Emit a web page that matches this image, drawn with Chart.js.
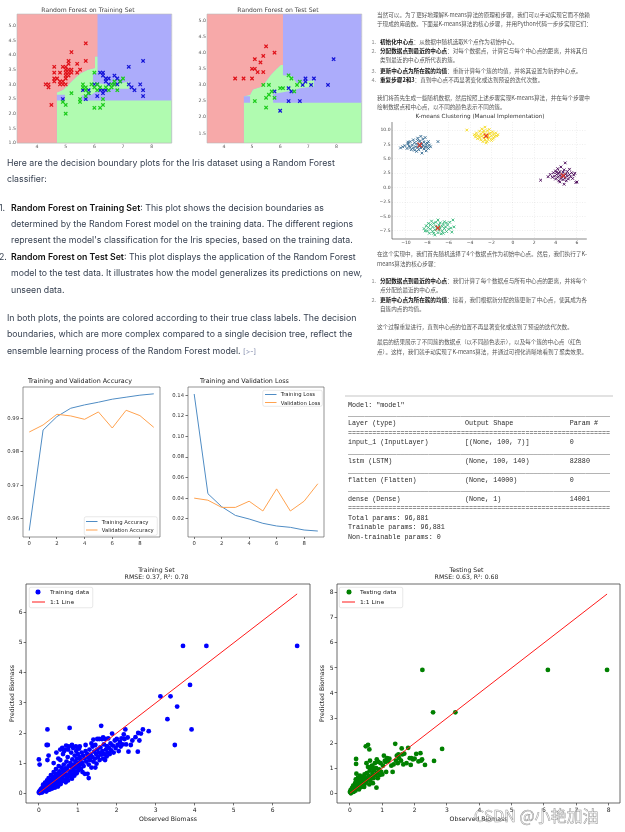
<!DOCTYPE html>
<html><head><meta charset="utf-8">
<script src="https://cdn.jsdelivr.net/npm/chart.js"></script>
<style>
html,body{margin:0;padding:0;background:#fff;width:625px;height:832px;overflow:hidden;}
#stage{position:relative;width:625px;height:832px;overflow:hidden;background:#fff;}
#stage canvas{position:absolute;}
#ov{position:absolute;left:0;top:0;width:1250px;height:1664px;transform:scale(0.5);transform-origin:0 0;pointer-events:none;z-index:10;}
#ov div{position:absolute;white-space:nowrap;}
#ov b{font-weight:600;color:#111;}
</style></head>
<body><div id="stage"><div id="ov"></div></div>
<script>
// ================= DATA =================
// --- Random Forest decision boundary plots (Iris: sepal length vs sepal width)
const decisionXTickLabels = ['4','5','6','7','8'];
const trainYTickLabels = ['1.0','1.5','2.0','2.5','3.0','3.5','4.0','4.5','5.0'];
const testYTickLabels = ['1.5','2.0','2.5','3.0','3.5','4.0','4.5','5.0'];
const trainSetosa = [[4.3,3.0],[4.4,2.9],[4.4,3.0],[4.5,2.3],[4.6,3.1],[4.6,3.2],[4.6,3.4],[4.6,3.6],[4.7,3.2],[4.8,3.0],[4.8,3.1],[4.8,3.4],[4.9,3.0],[4.9,3.1],[4.9,3.6],[5.0,3.0],[5.0,3.2],[5.0,3.3],[5.0,3.4],[5.0,3.5],[5.0,3.6],[5.1,3.3],[5.1,3.4],[5.1,3.5],[5.1,3.7],[5.1,3.8],[5.2,3.4],[5.2,3.5],[5.2,4.1],[5.4,3.4],[5.4,3.7],[5.5,3.5],[5.7,3.8],[5.7,4.4]];
const trainVersicolor = [[4.9,2.4],[5.0,2.0],[5.0,2.3],[5.2,2.7],[5.5,2.4],[5.5,2.5],[5.6,2.9],[5.6,3.0],[5.7,2.6],[5.7,2.8],[5.7,2.9],[5.8,2.7],[6.0,2.2],[6.0,2.9],[6.0,3.4],[6.1,2.8],[6.1,3.0],[6.2,2.2],[6.2,2.9],[6.3,2.3],[6.3,2.5],[6.4,2.9],[6.5,2.8],[6.6,2.9],[6.6,3.0],[6.7,3.1],[6.8,2.8],[6.9,3.1],[7.0,3.2],[5.9,3.0],[6.7,3.0]];
const trainVirginica = [[4.9,2.5],[5.6,2.8],[5.7,2.5],[5.8,2.7],[5.8,2.8],[6.0,3.0],[6.1,2.6],[6.1,3.0],[6.2,2.8],[6.2,3.4],[6.3,2.7],[6.3,2.8],[6.3,3.3],[6.3,3.4],[6.4,2.8],[6.4,3.1],[6.4,3.2],[6.5,3.0],[6.5,3.2],[6.7,3.0],[6.7,3.3],[6.8,3.0],[6.8,3.2],[6.9,3.1],[7.2,3.0],[7.2,3.6],[7.3,2.9],[7.4,2.8],[7.6,3.0],[7.7,2.6],[7.7,2.8],[7.7,3.8]];
const testSetosa = [[4.4,3.2],[4.7,3.2],[5.0,3.2],[5.0,3.5],[5.1,3.5],[5.1,3.8],[5.2,3.4],[5.3,3.7],[5.4,3.9],[5.4,3.4],[5.5,4.2],[5.8,4.0]];
const testVersicolor = [[5.1,2.5],[5.4,3.0],[5.5,2.3],[5.5,2.6],[5.6,2.7],[5.7,2.8],[5.8,2.6],[6.0,2.9],[6.1,2.9],[6.3,3.3],[6.4,3.2],[6.5,2.8],[6.6,3.0],[6.7,3.1],[5.6,3.0]];
const testVirginica = [[5.8,2.8],[6.0,2.2],[6.3,2.5],[6.3,2.9],[6.4,2.8],[6.7,2.5],[6.8,3.0],[6.9,3.1],[6.9,3.2],[7.1,3.0],[7.2,3.2],[7.7,3.0],[7.9,3.8]];
// predicted class regions (polygons in data space)
const trainBlueRegion = [[3.3,1.0],[8.7,1.0],[8.7,5.4],[3.3,5.4]];
const trainRedRegion = [[3.3,5.4],[6.11,5.4],[6.11,3.95],[6.02,3.95],[6.02,3.56],[5.77,3.5],[5.49,3.36],[5.26,3.16],[5.09,2.99],[4.91,2.82],[4.69,2.72],[4.69,1.0],[3.3,1.0]];
const trainGreenRegion = [[4.69,2.72],[4.91,2.82],[5.09,2.99],[5.26,3.16],[5.49,3.36],[5.77,3.5],[6.02,3.56],[6.02,3.95],[6.11,3.95],[6.11,3.4],[5.95,3.4],[5.95,3.1],[6.25,3.02],[6.6,2.97],[7.2,3.1],[7.2,2.85],[6.6,2.85],[6.05,2.75],[5.9,2.65],[5.55,2.62],[5.55,2.45],[8.7,2.45],[8.7,1.0],[4.69,1.0],[4.69,2.45],[4.97,2.45],[4.97,2.65],[4.69,2.65]];
const testBlueRegion = [[3.4,1.2],[8.9,1.2],[8.9,5.2],[3.4,5.2]];
const testRedRegion = [[3.4,5.2],[6.1,5.2],[6.1,3.62],[6.02,3.62],[5.84,3.47],[5.67,3.32],[5.49,3.11],[5.38,2.96],[5.03,2.86],[4.93,2.7],[4.71,2.65],[4.71,1.2],[3.4,1.2]];
const testGreenRegion = [[4.71,2.65],[4.93,2.7],[5.03,2.86],[5.38,2.96],[5.49,3.11],[5.67,3.32],[5.84,3.47],[6.02,3.62],[6.1,3.62],[6.1,3.3],[6.4,3.28],[6.6,3.05],[7.2,3.15],[7.2,2.95],[6.7,2.9],[6.4,2.82],[6.0,2.76],[5.75,2.72],[5.75,2.45],[8.9,2.45],[8.9,1.2],[4.71,1.2],[4.71,2.45],[4.93,2.45],[4.93,2.65],[4.71,2.65]];

// --- K-means clustering
const kmeansXTickLabels = ['\u221210','\u22128','\u22126','\u22124','\u22122','0','2','4','6'];
const kmeansYTickLabels = ['\u22127.5','\u22125.0','\u22122.5','0.0','2.5','5.0','7.5','10.0'];
const clusterPurple = [[2.6,1.3],[3.5,2.3],[3.7,1.8],[3.8,2.6],[3.9,2.0],[4.0,1.5],[4.0,2.9],[4.1,2.3],[4.2,1.8],[4.2,3.3],[4.3,2.5],[4.3,1.2],[4.4,2.1],[4.4,2.8],[4.5,1.6],[4.5,3.6],[4.6,2.3],[4.6,1.9],[4.7,2.7],[4.7,1.4],[4.8,2.1],[4.8,3.1],[4.9,4.3],[4.9,1.7],[5.0,2.4],[5.0,1.2],[5.1,2.0],[5.1,2.8],[5.2,1.5],[5.3,2.3],[5.4,1.9],[5.5,2.6],[5.6,1.6],[5.7,2.2],[5.8,2.5],[5.9,0.9],[6.0,1.0],[4.4,1.0],[4.8,0.6],[5.3,3.2],[4.1,2.7],[3.3,1.9]];
const clusterBlue = [[-10.5,6.9],[-10.3,7.1],[-10.1,7.3],[-9.9,6.8],[-9.8,7.6],[-9.7,7.2],[-9.6,8.0],[-9.5,6.6],[-9.4,7.4],[-9.3,8.3],[-9.3,6.9],[-9.2,7.8],[-9.1,7.1],[-9.0,6.3],[-9.0,7.6],[-8.9,8.6],[-8.9,7.0],[-8.8,7.4],[-8.8,6.6],[-8.7,8.1],[-8.7,7.2],[-8.6,8.9],[-8.6,6.9],[-8.5,7.6],[-8.5,6.0],[-8.4,7.3],[-8.4,8.4],[-8.3,6.7],[-8.3,7.9],[-8.2,7.1],[-8.2,8.7],[-8.1,6.4],[-8.1,7.5],[-8.0,7.0],[-7.9,8.0],[-7.9,6.8],[-7.8,7.4],[-7.7,7.1],[-9.6,7.0],[-9.2,6.5],[-8.6,7.7],[-8.9,8.2],[-8.0,7.7],[-7.0,8.0],[-9.8,7.9],[-8.5,7.1]];
const clusterGreen = [[-8.3,-7.1],[-8.1,-6.6],[-8.0,-7.5],[-7.9,-6.9],[-7.8,-7.9],[-7.7,-6.4],[-7.7,-7.2],[-7.6,-5.8],[-7.5,-6.8],[-7.5,-7.6],[-7.4,-6.2],[-7.3,-7.3],[-7.3,-8.2],[-7.2,-6.7],[-7.1,-7.0],[-7.0,-5.6],[-7.0,-7.8],[-6.9,-6.5],[-6.9,-7.3],[-6.8,-6.1],[-6.8,-7.0],[-6.7,-8.0],[-6.6,-6.7],[-6.6,-7.5],[-6.5,-6.3],[-6.4,-7.1],[-6.4,-5.9],[-6.3,-6.8],[-6.2,-7.6],[-6.1,-6.5],[-6.0,-7.2],[-5.9,-6.0],[-5.8,-7.0],[-5.7,-7.7],[-5.6,-5.6],[-5.5,-6.8],[-7.9,-6.2],[-7.4,-7.9],[-6.2,-6.1],[-7.2,-6.0],[-6.5,-7.9],[-8.2,-7.5]];
const clusterYellow = [[-4.3,10.0],[-3.6,9.2],[-3.5,8.8],[-3.4,9.5],[-3.3,8.5],[-3.2,9.0],[-3.1,9.8],[-3.0,8.3],[-3.0,9.3],[-2.9,8.9],[-2.9,10.2],[-2.8,8.0],[-2.8,9.6],[-2.7,9.1],[-2.7,8.6],[-2.6,10.5],[-2.6,9.4],[-2.5,8.8],[-2.5,7.8],[-2.4,9.2],[-2.4,9.9],[-2.3,8.4],[-2.3,9.0],[-2.2,10.1],[-2.2,8.7],[-2.1,9.5],[-2.0,8.2],[-2.0,9.0],[-1.9,9.7],[-1.8,8.6],[-1.8,9.3],[-1.7,8.9],[-1.6,9.5],[-1.5,9.0],[-1.4,9.2],[-3.1,8.7],[-2.6,8.3],[-2.2,9.4],[-3.4,9.1],[-1.9,8.4],[-2.7,9.9],[-2.4,8.0]];
const kmeansCenters = [[4.7,2.1],[-8.7,7.4],[-7.0,-7.0],[-2.5,9.0]];

// --- Training history
const epochs = [0,1,2,3,4,5,6,7,8,9];
const epochTickLabels = ['0','2','4','6','8'];
const trainAccuracy = [0.9565,0.9865,0.9905,0.9930,0.9940,0.9948,0.9957,0.9963,0.9969,0.9973];
const valAccuracy = [0.9859,0.9880,0.9912,0.9907,0.9897,0.9919,0.9871,0.9924,0.9908,0.9873];
const accTickLabels = ['0.96','0.97','0.98','0.99'];
const trainLoss = [0.1413,0.0443,0.0317,0.0232,0.0197,0.0155,0.0129,0.0116,0.0090,0.0080];
const valLoss = [0.0400,0.0380,0.0310,0.0310,0.0370,0.0275,0.0490,0.0275,0.0370,0.0540];
const lossTickLabels = ['0.02','0.04','0.06','0.08','0.10','0.12','0.14'];

// --- Biomass predictions [observed, predicted]
const trainTickLabels = ['0','1','2','3','4','5','6'];
const testTickLabels = ['0','1','2','3','4','5','6','7','8'];
const trainingBiomass = [[0.0,0.02],[0.01,0.05],[0.02,0.0],[0.03,0.08],[0.04,0.03],[0.05,0.12],[0.06,0.06],[0.07,0.15],[0.08,0.02],[0.09,0.1],[0.1,0.2],[0.1,0.05],[0.11,0.28],[0.12,0.12],[0.13,0.18],[0.14,0.08],[0.15,0.25],[0.16,0.35],[0.17,0.14],[0.18,0.22],[0.19,0.05],[0.2,0.3],[0.21,0.42],[0.22,0.18],[0.23,0.1],[0.24,0.26],[0.25,0.5],[0.26,0.34],[0.27,0.2],[0.28,0.12],[0.29,0.4],[0.3,0.28],[0.31,0.6],[0.32,0.22],[0.33,0.45],[0.34,0.15],[0.35,0.35],[0.36,0.52],[0.37,0.3],[0.38,0.7],[0.39,0.25],[0.4,0.42],[0.41,0.18],[0.42,0.58],[0.43,0.36],[0.44,0.8],[0.45,0.28],[0.46,0.48],[0.47,0.65],[0.48,0.4],[0.49,0.22],[0.5,0.55],[0.51,0.9],[0.52,0.35],[0.53,0.72],[0.54,0.46],[0.55,1.1],[0.56,0.3],[0.57,0.62],[0.58,0.85],[0.59,0.5],[0.6,0.4],[0.61,0.75],[0.62,1.3],[0.63,0.58],[0.64,0.95],[0.65,0.45],[0.66,0.68],[0.67,1.45],[0.68,0.82],[0.69,0.36],[0.7,0.6],[0.71,1.05],[0.72,0.5],[0.73,0.78],[0.74,1.2],[0.75,0.42],[0.76,0.9],[0.77,1.55],[0.78,0.65],[0.79,2.17],[0.8,0.55],[0.81,1.0],[0.82,0.72],[0.83,1.35],[0.84,0.88],[0.85,0.48],[0.86,1.12],[0.87,0.62],[0.88,1.5],[0.89,0.8],[0.9,0.95],[0.91,0.58],[0.92,1.25],[0.93,0.7],[0.94,1.05],[0.95,0.85],[0.96,1.4],[0.97,0.66],[0.98,1.15],[0.99,0.9],[1.0,1.3],[1.01,0.75],[1.02,1.0],[1.03,1.48],[1.04,0.85],[1.05,1.2],[1.06,0.95],[1.07,1.1],[1.08,0.8],[1.1,1.35],[1.12,1.0],[1.14,1.25],[1.15,0.9],[1.17,1.15],[1.18,0.64],[1.2,1.4],[1.22,1.05],[1.24,1.3],[1.28,0.5],[1.27,1.18],[1.28,0.95],[1.3,1.45],[1.31,1.1],[1.33,1.28],[1.35,0.85],[1.37,1.2],[1.38,1.55],[1.4,1.05],[1.42,1.38],[1.44,1.15],[1.45,1.6],[1.47,1.3],[1.48,0.98],[1.5,1.45],[1.52,1.2],[1.54,1.35],[1.56,1.1],[1.58,1.52],[1.6,2.24],[1.6,1.28],[1.62,1.8],[1.63,1.4],[1.65,1.15],[1.67,1.62],[1.68,1.3],[1.7,1.8],[1.72,1.45],[1.74,1.22],[1.75,1.56],[1.77,1.35],[1.78,1.82],[1.8,1.5],[1.82,1.3],[1.84,1.65],[1.86,1.42],[1.88,1.98],[1.9,1.58],[1.92,1.35],[1.95,1.75],[1.97,1.5],[2.0,1.8],[2.02,1.6],[2.05,1.4],[2.08,1.7],[2.1,1.55],[2.12,1.82],[2.15,1.62],[2.18,1.95],[2.2,1.8],[2.22,2.12],[2.24,1.62],[2.28,1.85],[2.3,1.38],[2.36,1.6],[2.4,1.75],[2.48,1.86],[2.54,1.38],[2.58,1.75],[2.62,1.98],[2.67,2.12],[2.82,2.06],[2.55,2.0],[0.0,1.12],[0.02,0.95],[0.2,1.6],[0.23,1.6],[0.22,2.12],[0.25,1.25],[0.22,1.1],[0.38,1.0],[0.5,1.15],[0.45,1.35],[0.55,1.45],[0.6,1.5],[0.65,1.4],[0.7,1.58],[0.75,1.45],[0.85,1.6],[0.95,1.55],[1.0,1.5],[1.05,1.55],[1.2,1.6],[1.35,1.65],[1.4,1.78],[1.5,1.8],[1.55,1.8],[1.65,1.85],[1.45,0.85],[1.7,1.1],[1.25,0.64],[1.12,0.7],[3.12,3.22],[3.38,3.22],[3.7,4.9],[4.3,4.9],[6.63,4.9],[3.88,3.6],[3.55,2.88],[3.3,2.46],[3.92,2.12],[3.49,1.6]];
const testingBiomass = [[0.0,0.05],[0.02,0.12],[0.03,0.0],[0.05,0.08],[0.06,0.2],[0.08,0.1],[0.1,0.3],[0.11,0.05],[0.13,0.15],[0.15,0.25],[0.16,0.4],[0.17,0.1],[0.18,0.55],[0.19,1.37],[0.19,1.17],[0.2,0.78],[0.21,0.3],[0.22,0.5],[0.24,0.2],[0.25,0.62],[0.26,0.42],[0.28,0.15],[0.3,0.35],[0.31,0.7],[0.33,0.48],[0.35,0.25],[0.36,0.58],[0.38,0.4],[0.4,0.65],[0.41,0.3],[0.43,0.52],[0.45,0.75],[0.46,0.38],[0.48,0.6],[0.49,1.87],[0.5,0.45],[0.51,1.2],[0.52,0.8],[0.56,1.93],[0.55,0.55],[0.56,1.05],[0.58,0.7],[0.6,1.75],[0.6,0.35],[0.61,0.9],[0.62,1.3],[0.63,0.5],[0.65,1.0],[0.66,0.65],[0.68,1.1],[0.7,0.8],[0.71,0.4],[0.73,0.6],[0.75,0.92],[0.77,1.2],[0.78,0.72],[0.82,0.22],[0.81,1.0],[0.83,1.35],[0.84,0.8],[0.86,0.6],[0.88,1.25],[0.9,0.95],[0.92,0.72],[0.95,1.2],[0.97,0.85],[1.0,0.75],[1.02,1.1],[1.05,1.5],[1.08,1.3],[1.1,1.25],[1.15,1.4],[1.18,1.28],[1.22,1.38],[1.28,1.1],[1.32,0.85],[1.35,1.15],[1.4,1.97],[1.42,1.3],[1.45,1.5],[1.48,1.2],[1.5,1.55],[1.52,1.4],[1.58,1.3],[1.6,1.79],[1.62,1.55],[1.65,1.15],[1.68,1.58],[1.8,1.81],[1.85,1.4],[1.88,1.13],[1.95,1.35],[2.0,1.38],[2.05,1.57],[2.12,1.27],[2.18,1.6],[2.2,1.3],[2.23,1.35],[2.32,1.13],[1.9,1.4],[1.75,1.2],[0.35,0.62],[0.28,0.38],[0.12,0.22],[0.44,0.25],[0.7,1.05],[1.12,0.85],[2.24,4.92],[2.57,3.23],[3.26,3.23],[2.85,1.77],[2.6,1.29],[6.12,4.92],[7.95,4.92]];

// ================= HELPERS =================
Chart.defaults.font.family = 'DejaVu Sans';
Chart.defaults.animation = false;
const stage = document.getElementById('stage');
const ov = document.getElementById('ov');
const pts = a => a.map(p => ({x: p[0], y: p[1]}));
const num = l => parseFloat(l.replace('\u2212', '-'));

Chart.register({
  id: 'frame',
  afterDatasetsDraw(chart, args, o) {
    if (!o || !o.sides) return;
    const a = chart.chartArea, c = chart.ctx;
    c.save(); c.strokeStyle = o.color; c.lineWidth = o.width; c.beginPath();
    if (o.sides.includes('l')) { c.moveTo(a.left, a.top); c.lineTo(a.left, a.bottom); }
    if (o.sides.includes('b')) { c.moveTo(a.left, a.bottom); c.lineTo(a.right, a.bottom); }
    if (o.sides.includes('t')) { c.moveTo(a.left, a.top); c.lineTo(a.right, a.top); }
    if (o.sides.includes('r')) { c.moveTo(a.right, a.top); c.lineTo(a.right, a.bottom); }
    c.stroke(); c.restore();
  }
});

function mkCanvas(L, T, W, H) {
  const c = document.createElement('canvas');
  c.width = W; c.height = H;
  c.style.left = L + 'px'; c.style.top = T + 'px';
  c.style.width = W + 'px'; c.style.height = H + 'px';
  stage.insertBefore(c, ov);
  return c;
}
function sc(o) {
  const labels = o.labels;
  return {
    type: 'linear', min: o.min, max: o.max,
    afterBuildTicks: s => { s.ticks = labels.map(l => ({value: num(l)})); },
    afterFit: s => { if (s.isHorizontal()) s.height = o.size; else s.width = o.size; },
    ticks: {autoSkip: false, maxRotation: 0, minRotation: 0, padding: o.pad, color: o.color || '#222',
      font: {size: o.fs}, callback: (v, i) => labels[i]},
    grid: {display: true, drawOnChartArea: !!o.grid, color: o.gridColor || 'rgba(0,0,0,0)', lineWidth: o.gridWidth || 0.6,
      drawTicks: (o.tl || 0) > 0, tickLength: o.tl || 0, tickColor: o.tickColor || '#333', tickWidth: 0.7},
    border: {display: false, dash: o.dash || []},
    title: o.title ? {display: true, text: o.title, color: '#222', font: {size: o.tfs}, padding: o.tpad} : {display: false}
  };
}
function baseOpts(o) {
  return {
    responsive: false, animation: false, events: [],
    layout: {padding: {left: 0, top: 0, right: o.padR, bottom: o.padB || 0}},
    plugins: {
      legend: {display: false}, tooltip: {enabled: false},
      title: {display: true, text: o.title, color: o.titleColor || '#222',
        font: {size: o.titleFs, weight: 'normal', lineHeight: 1.2}, padding: {top: o.tpt, bottom: o.tpb}},
      frame: o.frame
    },
    scales: {x: o.x, y: o.y}
  };
}

// ================= DECISION BOUNDARY PLOTS =================
function decisionChart(L, xMin, xMax, yMin, yMax, yLabels, title, red, green, blue, setosa, versi, virg) {
  const region = (d, col, ord) => ({type: 'line', data: pts(d), fill: 'shape', backgroundColor: col,
    borderWidth: 0, pointRadius: 0, tension: 0, order: ord});
  const mark = (d, col) => ({type: 'scatter', data: pts(d), pointStyle: 'crossRot', pointRadius: 2.4,
    borderColor: col, borderWidth: 1.25, backgroundColor: col, order: 0});
  new Chart(mkCanvas(L, 0, 177, 152), {
    type: 'scatter',
    data: {datasets: [
      mark(setosa, '#e0121a'), mark(versi, '#1ccc1c'), mark(virg, '#1515d8'),
      region(red, '#f7a9a9', 3), region(green, '#b0fbb0', 4), region(blue, '#acacfb', 5)
    ]},
    options: baseOpts({padR: 1, title: title, titleFs: 6.1, titleColor: '#444', tpt: 6.3, tpb: 0.4,
      frame: {sides: 'lbtr', color: '#b8b8b8', width: 0.6},
      x: sc({min: xMin, max: xMax, labels: decisionXTickLabels, size: 9, pad: 1, fs: 4.6, color: '#555', grid: true, gridColor: 'rgba(90,90,90,0.16)', gridWidth: 0.6}),
      y: sc({min: yMin, max: yMax, labels: yLabels, size: 17, pad: 1.2, fs: 4.6, color: '#555', grid: true, gridColor: 'rgba(90,90,90,0.16)', gridWidth: 0.6})
    })
  });
}
decisionChart(0, 3.3, 8.7, 1.0, 5.4, trainYTickLabels, 'Random Forest on Training Set', trainRedRegion, trainGreenRegion, trainBlueRegion, trainSetosa, trainVersicolor, trainVirginica);
decisionChart(190, 3.4, 8.9, 1.2, 5.2, testYTickLabels, 'Random Forest on Test Set', testRedRegion, testGreenRegion, testBlueRegion, testSetosa, testVersicolor, testVirginica);

// ================= K-MEANS =================
(function () {
  const cl = (d, col) => ({data: pts(d), pointStyle: 'crossRot', pointRadius: 1.9, borderColor: col, borderWidth: 0.9, backgroundColor: col, order: 1});
  new Chart(mkCanvas(370, 110, 222, 137), {
    type: 'scatter',
    data: {datasets: [
      cl(clusterPurple, '#440154'), cl(clusterBlue, '#31688e'), cl(clusterGreen, '#35b779'), cl(clusterYellow, '#f5d91c'),
      {data: pts(kmeansCenters), pointStyle: 'crossRot', pointRadius: 3.2, borderColor: '#e23a2a', borderWidth: 1.2, order: 0}
    ]},
    options: baseOpts({padR: 2, title: 'K-means Clustering (Manual Implementation)', titleFs: 5.7, titleColor: '#333', tpt: 3.3, tpb: 1.9,
      frame: {sides: 'lb', color: '#555', width: 0.7},
      x: sc({min: -11.3, max: 6.92, labels: kmeansXTickLabels, size: 8, pad: 1, fs: 4.5, color: '#444', grid: true, gridColor: 'rgba(0,0,0,0.13)', gridWidth: 0.5, dash: [1, 1.5]}),
      y: sc({min: -8.9, max: 11.39, labels: kmeansYTickLabels, size: 22, pad: 1.5, fs: 4.5, color: '#444', grid: true, gridColor: 'rgba(0,0,0,0.13)', gridWidth: 0.5, dash: [1, 1.5]})
    })
  });
})();

// ================= ACCURACY / LOSS =================
const C0 = '#4f8cc4', C1 = '#ffa24f';
function historyChart(L, title, tr, va, yMin, yMax, yLabels) {
  const ln = (vals, col, ord) => ({type: 'line', data: epochs.map((e, i) => ({x: e, y: vals[i]})), borderColor: col,
    borderWidth: 1, pointRadius: 0, tension: 0, fill: false, order: ord});
  new Chart(mkCanvas(L, 372, L === 0 ? 161 : 160, 175), {
    type: 'scatter',
    data: {datasets: [ln(va, C1, 0), ln(tr, C0, 1)]},
    options: baseOpts({padR: 1, title: title, titleFs: 6.4, titleColor: '#222', tpt: 5.86, tpb: 1.46,
      frame: {sides: 'lbtr', color: '#666', width: 0.7},
      x: sc({min: -0.45, max: 9.45, labels: epochTickLabels, size: 10, pad: 1.1, tl: 2, fs: 5.3, color: '#333'}),
      y: sc({min: yMin, max: yMax, labels: yLabels, size: 23, pad: 1.5, tl: 2.5, fs: 5.3, color: '#333'})
    })
  });
}
historyChart(0, 'Training and Validation Accuracy', trainAccuracy, valAccuracy, 0.95457, 0.99934, accTickLabels);
historyChart(165, 'Training and Validation Loss', trainLoss, valLoss, 0.0022, 0.1481, lossTickLabels);

// ================= BIOMASS SCATTERS =================
function biomassChart(L, yW, title, data, col, xMax, yMax, labels, xMin, yMin) {
  const obs = data.map(d => d[0]);
  const lo = Math.min(...obs), hi = Math.max(...obs);
  new Chart(mkCanvas(L, 560, 314, 263), {
    type: 'scatter',
    data: {datasets: [
      {type: 'line', data: [{x: lo, y: lo}, {x: hi, y: hi}], borderColor: '#ff1a1a', borderWidth: 1, pointRadius: 0, fill: false, order: 0},
      {data: pts(data), pointRadius: 2.4, backgroundColor: col, borderWidth: 0, order: 1}
    ]},
    options: baseOpts({padR: 1, title: title, titleFs: 6.2, titleColor: '#222', tpt: 6.28, tpb: 2.84,
      frame: {sides: 'lbtr', color: '#444', width: 0.8},
      x: sc({min: xMin, max: xMax, labels: labels, size: 20, pad: 1, tl: 2.4, fs: 6.0, color: '#222',
        title: 'Observed Biomass', tfs: 6.2, tpad: {top: 0, bottom: 0.28}}),
      y: sc({min: yMin, max: yMax, labels: labels, size: yW, pad: 1, tl: 2.4, fs: 6.0, color: '#222',
        title: 'Predicted Biomass', tfs: 6.2, tpad: {top: 8.28 + (yW - 26) * 0.3, bottom: 0}})
    })
  });
}
biomassChart(0, 26, ['Training Set', 'RMSE: 0.37, R\u00b2: 0.78'], trainingBiomass, '#0000ff', 6.96, 6.96, trainTickLabels, -0.33, -0.33);
biomassChart(310, 27, ['Testing Set', 'RMSE: 0.63, R\u00b2: 0.68'], testingBiomass, '#008000', 8.35, 8.35, testTickLabels, -0.4, -0.39);

// ================= OVERLAY TEXT / LEGENDS =================
function addText(x, y, html, o) {
  const fs = o.fs, lh = fs * 1.4;
  const d = document.createElement('div');
  d.innerHTML = html;
  d.style.left = (x * 2) + 'px'; d.style.top = ((y - lh / 2) * 2) + 'px';
  d.style.fontSize = (fs * 2) + 'px'; d.style.lineHeight = (lh * 2) + 'px';
  d.style.fontFamily = o.family; d.style.color = o.color;
  if (o.weight) d.style.fontWeight = o.weight;
  ov.appendChild(d); return d;
}
function addBox(x1, y1, x2, y2, css) {
  const d = document.createElement('div');
  d.style.left = (x1 * 2) + 'px'; d.style.top = (y1 * 2) + 'px';
  d.style.width = ((x2 - x1) * 2) + 'px'; d.style.height = ((y2 - y1) * 2) + 'px';
  Object.assign(d.style, css); ov.appendChild(d); return d;
}
function fitSize(text, family, weight, target) {
  const c = document.createElement('canvas').getContext('2d');
  c.font = weight + ' 100px ' + family;
  return 100 * target / c.measureText(text).width;
}

// --- English explanation
const enFamily = 'Inter, "Noto Sans", sans-serif';
const enLines = [
  [163, 7, '', 'Here are the decision boundary plots for the Iris dataset using a Random Forest'],
  [179, 7, '', 'classifier:'],
  [208, 11, '1.', '<b>Random Forest on Training Set</b>: This plot shows the decision boundaries as'],
  [224, 11, '', 'determined by the Random Forest model on the training data. The different regions'],
  [240, 11, '', "represent the model's classification for the Iris species, based on the training data."],
  [257, 11, '2.', '<b>Random Forest on Test Set</b>: This plot displays the application of the Random Forest'],
  [273, 11, '', 'model to the test data. It illustrates how the model generalizes its predictions on new,'],
  [290, 11, '', 'unseen data.'],
  [318, 7, '', 'In both plots, the points are colored according to their true class labels. The decision'],
  [334, 7, '', 'boundaries, which are more complex compared to a single decision tree, reflect the'],
  [351, 7, '', 'ensemble learning process of the Random Forest model. <span style="color:#7c86a8;font-size:80%">[&gt;-]</span>']
];
const enFs = fitSize(enLines[0][3], enFamily, '400', 328);
enLines.forEach(l => {
  if (l[2]) addText(l[1] - 12, l[0], l[2], {fs: enFs, family: enFamily, color: '#374151'});
  addText(l[1], l[0], l[3], {fs: enFs, family: enFamily, color: '#374151'});
});

// --- Chinese explanation
const zhFamily = '"Noto Sans CJK SC", sans-serif';
const zhLines = [
  [15, 377, '', '当然可以。为了更好地理解K-means算法的原理和步骤，我们可以手动实现它而不依赖'],
  [24, 377, '', '于现成的库函数。下面是K-means算法的核心步骤，并用Python代码一步步实现它们：'],
  [42, 380, '1.', '<b>初始化中心点</b>：从数据中随机选取K个点作为初始中心。'],
  [51, 380, '2.', '<b>分配数据点到最近的中心点</b>：对每个数据点，计算它与每个中心点的距离，并将其归'],
  [60, 380, '', '类到最近的中心点所代表的簇。'],
  [71, 380, '3.', '<b>更新中心点为所在簇的均值</b>：重新计算每个簇的均值，并将其设置为新的中心点。'],
  [80, 380, '4.', '<b>重复步骤2和3</b>：直到中心点不再显著变化或达到预设的迭代次数。'],
  [98, 377, '', '我们将首先生成一些随机数据，然后按照上述步骤实现K-means算法，并在每个步骤中'],
  [107, 377, '', '绘制数据点和中心点，以不同的颜色表示不同的簇。'],
  [254, 377, '', '在这个实现中，我们首先随机选择了4个数据点作为初始中心点。然后，我们执行了K-'],
  [264, 377, '', 'means算法的核心步骤：'],
  [281, 380, '1.', '<b>分配数据点到最近的中心点</b>：我们计算了每个数据点与所有中心点的距离，并将每个'],
  [290, 380, '', '点分配给最近的中心点。'],
  [300, 380, '2.', '<b>更新中心点为所在簇的均值</b>：接着，我们根据新分配的簇更新了中心点，使其成为各'],
  [309, 380, '', '自簇内点的均值。'],
  [327, 377, '', '这个过程重复进行，直到中心点的位置不再显著变化或达到了预设的迭代次数。'],
  [342, 377, '', '最后的结果展示了不同簇的数据点（以不同颜色表示），以及每个簇的中心点（红色'],
  [352, 377, '', '点）。这样，我们就手动实现了K-means算法，并通过可视化清晰地看到了聚类效果。']
];
const zhFs = fitSize(zhLines[0][3], '"Noto Sans CJK SC"', '400', 213);
zhLines.forEach(l => {
  if (l[2]) addText(371.5, l[0], l[2], {fs: zhFs, family: zhFamily, color: '#8a8a8a'});
  addText(l[1], l[0], l[3], {fs: zhFs, family: zhFamily, color: '#555'});
});

// --- Model summary
const summaryLines = [
  'Model: "model"',
  '_________________________________________________________________',
  'Layer (type)                 Output Shape              Param #   ',
  '=================================================================',
  'input_1 (InputLayer)         [(None, 100, 7)]          0         ',
  '_________________________________________________________________',
  'lstm (LSTM)                  (None, 100, 140)          82880     ',
  '_________________________________________________________________',
  'flatten (Flatten)            (None, 14000)             0         ',
  '_________________________________________________________________',
  'dense (Dense)                (None, 1)                 14001     ',
  '=================================================================',
  'Total params: 96,881',
  'Trainable params: 96,881',
  'Non-trainable params: 0'
];
addBox(345, 395.2, 613, 396.8, {background: '#e2e2e2'});
summaryLines.forEach((t, i) => {
  const d = addText(348, 405 + i * 9.43, t.replace(/ /g, '&nbsp;'), {fs: 6.72, family: '"Liberation Mono", "DejaVu Sans Mono", monospace', color: '#2a2a2a'});
  d.style.whiteSpace = 'pre';
});

// --- Legends
const legFam = '"DejaVu Sans", sans-serif';
function lineLegend(bx1, by1, bx2, by2, rows, lx1, lx2, tx, fs) {
  addBox(bx1, by1, bx2, by2, {background: 'rgba(255,255,255,0.85)', border: '1px solid #d0d0d0', borderRadius: '4px', boxSizing: 'border-box'});
  rows.forEach(r => {
    addBox(lx1, r[0] - 0.5, lx2, r[0] + 0.5, {background: r[1]});
    addText(tx, r[0], r[2], {fs: fs, family: legFam, color: '#222'});
  });
}
lineLegend(84, 516.7, 157.3, 535.7, [[521.7, C0, 'Training Accuracy'], [530, C1, 'Validation Accuracy']], 86, 97.7, 101.7, 5.3);
lineLegend(262.7, 390, 322.7, 406.7, [[394.3, C0, 'Training Loss'], [402.7, C1, 'Validation Loss']], 265, 276.7, 280.7, 5.3);
function scatterLegend(bx1, mx, lx1, lx2, tx, col, label) {
  addBox(bx1, 587, bx1 + 64, 608, {background: 'rgba(255,255,255,0.85)', border: '1px solid #d0d0d0', borderRadius: '4px', boxSizing: 'border-box'});
  addBox(mx - 2.3, 592 - 2.3, mx + 2.3, 592 + 2.3, {background: col, borderRadius: '50%'});
  addText(tx, 592, label, {fs: 6.0, family: legFam, color: '#222'});
  addBox(lx1, 601.5, lx2, 602.5, {background: '#ff1a1a'});
  addText(tx, 602, '1:1 Line', {fs: 6.0, family: legFam, color: '#222'});
}
scatterLegend(29, 38, 32, 45, 50, '#0000ff', 'Training data');
scatterLegend(339, 349, 342, 355, 360, '#008000', 'Testing data');

// --- Watermark
const wm = addText(474, 815, 'CSDN @小艳加油', {fs: 16, family: '"Noto Sans CJK SC", sans-serif', color: 'rgba(255,255,255,0.55)'});
wm.style.webkitTextStroke = '1px rgba(110,110,110,0.75)';
</script>
</body></html>
